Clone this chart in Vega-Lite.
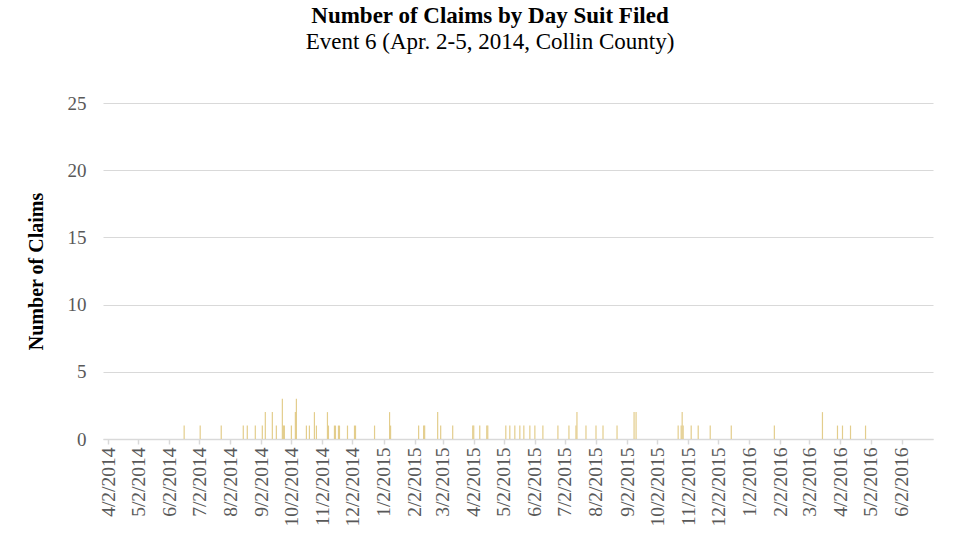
{
  "$schema": "https://vega.github.io/schema/vega-lite/v6.json",
  "autosize": "none",
  "width": 830,
  "height": 336,
  "padding": {"left": 103, "top": 103, "right": 46, "bottom": 121},
  "background": "white",
  "title": {
    "text": "Number of Claims by Day Suit Filed",
    "subtitle": "Event 6 (Apr. 2-5, 2014, Collin County)",
    "anchor": "middle",
    "dx": -28,
    "offset": 40,
    "font": "Liberation Serif",
    "fontSize": 23,
    "fontWeight": "bold",
    "color": "#000000",
    "subtitleFont": "Liberation Serif",
    "subtitleFontSize": 23,
    "subtitleColor": "#000000",
    "subtitlePadding": 3
  },
  "data": {
    "values": [
      {"date": "2014-06-17", "claims": 1},
      {"date": "2014-07-03", "claims": 1},
      {"date": "2014-07-24", "claims": 1},
      {"date": "2014-08-15", "claims": 1},
      {"date": "2014-08-19", "claims": 1},
      {"date": "2014-08-27", "claims": 1},
      {"date": "2014-09-03", "claims": 1},
      {"date": "2014-09-06", "claims": 2},
      {"date": "2014-09-13", "claims": 2},
      {"date": "2014-09-17", "claims": 1},
      {"date": "2014-09-23", "claims": 3},
      {"date": "2014-09-24", "claims": 1},
      {"date": "2014-09-25", "claims": 1},
      {"date": "2014-10-02", "claims": 1},
      {"date": "2014-10-06", "claims": 2},
      {"date": "2014-10-07", "claims": 3},
      {"date": "2014-10-17", "claims": 1},
      {"date": "2014-10-20", "claims": 1},
      {"date": "2014-10-25", "claims": 2},
      {"date": "2014-10-27", "claims": 1},
      {"date": "2014-11-07", "claims": 2},
      {"date": "2014-11-08", "claims": 1},
      {"date": "2014-11-14", "claims": 1},
      {"date": "2014-11-15", "claims": 1},
      {"date": "2014-11-18", "claims": 1},
      {"date": "2014-11-19", "claims": 1},
      {"date": "2014-11-27", "claims": 1},
      {"date": "2014-12-04", "claims": 1},
      {"date": "2014-12-05", "claims": 1},
      {"date": "2014-12-24", "claims": 1},
      {"date": "2015-01-08", "claims": 2},
      {"date": "2015-01-09", "claims": 1},
      {"date": "2015-02-06", "claims": 1},
      {"date": "2015-02-11", "claims": 1},
      {"date": "2015-02-12", "claims": 1},
      {"date": "2015-02-25", "claims": 2},
      {"date": "2015-02-28", "claims": 1},
      {"date": "2015-03-12", "claims": 1},
      {"date": "2015-04-01", "claims": 1},
      {"date": "2015-04-02", "claims": 1},
      {"date": "2015-04-08", "claims": 1},
      {"date": "2015-04-15", "claims": 1},
      {"date": "2015-04-16", "claims": 1},
      {"date": "2015-05-04", "claims": 1},
      {"date": "2015-05-08", "claims": 1},
      {"date": "2015-05-13", "claims": 1},
      {"date": "2015-05-18", "claims": 1},
      {"date": "2015-05-22", "claims": 1},
      {"date": "2015-05-28", "claims": 1},
      {"date": "2015-06-02", "claims": 1},
      {"date": "2015-06-10", "claims": 1},
      {"date": "2015-06-25", "claims": 1},
      {"date": "2015-07-06", "claims": 1},
      {"date": "2015-07-13", "claims": 1},
      {"date": "2015-07-14", "claims": 2},
      {"date": "2015-07-23", "claims": 1},
      {"date": "2015-08-02", "claims": 1},
      {"date": "2015-08-09", "claims": 1},
      {"date": "2015-08-23", "claims": 1},
      {"date": "2015-09-09", "claims": 2},
      {"date": "2015-09-11", "claims": 2},
      {"date": "2015-10-23", "claims": 1},
      {"date": "2015-10-26", "claims": 1},
      {"date": "2015-10-27", "claims": 2},
      {"date": "2015-10-28", "claims": 1},
      {"date": "2015-11-05", "claims": 1},
      {"date": "2015-11-12", "claims": 1},
      {"date": "2015-11-24", "claims": 1},
      {"date": "2015-12-15", "claims": 1},
      {"date": "2016-01-27", "claims": 1},
      {"date": "2016-03-15", "claims": 2},
      {"date": "2016-03-30", "claims": 1},
      {"date": "2016-04-04", "claims": 1},
      {"date": "2016-04-12", "claims": 1},
      {"date": "2016-04-27", "claims": 1}
    ]
  },
  "mark": {"type": "bar", "size": 1.2, "color": "#E3CD8C"},
  "encoding": {
    "x": {
      "field": "date",
      "type": "temporal",
      "scale": {
        "type": "utc",
        "domain": [
          {"year": 2014, "month": 4, "date": 2, "utc": true},
          {"year": 2016, "month": 6, "date": 28, "hours": 8, "utc": true}
        ]
      },
      "axis": {
        "title": null,
        "format": "%-m/%-d/%Y",
        "values": [
          {"year": 2014, "month": 4, "date": 2, "utc": true},
          {"year": 2014, "month": 5, "date": 2, "utc": true},
          {"year": 2014, "month": 6, "date": 2, "utc": true},
          {"year": 2014, "month": 7, "date": 2, "utc": true},
          {"year": 2014, "month": 8, "date": 2, "utc": true},
          {"year": 2014, "month": 9, "date": 2, "utc": true},
          {"year": 2014, "month": 10, "date": 2, "utc": true},
          {"year": 2014, "month": 11, "date": 2, "utc": true},
          {"year": 2014, "month": 12, "date": 2, "utc": true},
          {"year": 2015, "month": 1, "date": 2, "utc": true},
          {"year": 2015, "month": 2, "date": 2, "utc": true},
          {"year": 2015, "month": 3, "date": 2, "utc": true},
          {"year": 2015, "month": 4, "date": 2, "utc": true},
          {"year": 2015, "month": 5, "date": 2, "utc": true},
          {"year": 2015, "month": 6, "date": 2, "utc": true},
          {"year": 2015, "month": 7, "date": 2, "utc": true},
          {"year": 2015, "month": 8, "date": 2, "utc": true},
          {"year": 2015, "month": 9, "date": 2, "utc": true},
          {"year": 2015, "month": 10, "date": 2, "utc": true},
          {"year": 2015, "month": 11, "date": 2, "utc": true},
          {"year": 2015, "month": 12, "date": 2, "utc": true},
          {"year": 2016, "month": 1, "date": 2, "utc": true},
          {"year": 2016, "month": 2, "date": 2, "utc": true},
          {"year": 2016, "month": 3, "date": 2, "utc": true},
          {"year": 2016, "month": 4, "date": 2, "utc": true},
          {"year": 2016, "month": 5, "date": 2, "utc": true},
          {"year": 2016, "month": 6, "date": 2, "utc": true}
        ],
        "labelAngle": -90,
        "labelFont": "Liberation Serif",
        "labelFontSize": 19.5,
        "labelColor": "#595959",
        "labelPadding": 3,
        "labelOverlap": false,
        "labelFlush": false,
        "labelBound": false,
        "grid": false,
        "domainColor": "#D9D9D9",
        "domainWidth": 1.5,
        "tickColor": "#D9D9D9",
        "tickWidth": 1.5,
        "tickSize": 5
      }
    },
    "y": {
      "field": "claims",
      "type": "quantitative",
      "scale": {"domain": [0, 25], "nice": false},
      "axis": {
        "title": "Number of Claims",
        "titleFont": "Liberation Serif",
        "titleFontSize": 20,
        "titleFontWeight": "bold",
        "titleColor": "#000000",
        "titlePadding": 21,
        "values": [0, 5, 10, 15, 20, 25],
        "labelFont": "Liberation Serif",
        "labelFontSize": 19,
        "labelColor": "#595959",
        "labelPadding": 17,
        "domain": false,
        "ticks": false,
        "grid": true,
        "gridColor": "#D9D9D9",
        "gridWidth": 1.2
      }
    }
  },
  "config": {"view": {"stroke": null}}
}
